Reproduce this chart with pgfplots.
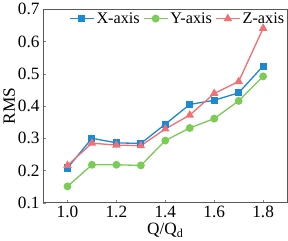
\documentclass[border=0pt]{standalone}
\usepackage{fontspec}
\setmainfont{Liberation Serif}
\usepackage{pgfplots}
\pgfplotsset{compat=1.18}
\definecolor{cx}{RGB}{28,138,210}
\definecolor{cy}{RGB}{122,204,84}
\definecolor{cz}{RGB}{240,112,116}
\begin{document}
\begin{tikzpicture}
\begin{axis}[
  scale only axis, width=240bp, height=190bp,
  xmin=0.9, xmax=1.9, ymin=0.1, ymax=0.7,
  xtick={1.0,1.2,1.4,1.6,1.8},
  ytick={0.1,0.2,0.3,0.4,0.5,0.6,0.7},
  xticklabel style={/pgf/number format/.cd,fixed,fixed zerofill,precision=1},
  yticklabel style={/pgf/number format/.cd,fixed,fixed zerofill,precision=1},
  /pgf/number format/assume math mode=true,
  tick align=inside, xtick pos=bottom, ytick pos=left,
  major tick length=3bp,
  tick label style={font=\fontsize{17}{19}\selectfont},
  label style={font=\fontsize{17}{19}\selectfont},
  xlabel={Q/Q$_\mathrm{d}$}, ylabel={RMS},
  xlabel style={yshift=2bp}, ylabel style={yshift=-4bp},
  axis line style={gray!70!black, line width=0.8pt},
  legend columns=3,
  legend style={at={(0.995,0.995)}, anchor=north east, draw=none, fill=none,
    font=\fontsize{16}{18}\selectfont, inner sep=0pt,
    /tikz/every even column/.append style={column sep=1pt}},
  legend image code/.code={\draw[mark repeat=2,mark phase=2] plot coordinates {(0cm,0cm)(0.42cm,0cm)(0.84cm,0cm)};},
  legend cell align=left,
]
\addplot[cx, line width=1.3pt, mark=square*, mark size=2.8pt] coordinates {
(1.0,0.208)(1.1,0.300)(1.2,0.286)(1.3,0.284)(1.4,0.344)(1.5,0.405)(1.6,0.418)(1.7,0.441)(1.8,0.524)};
\addlegendentry{X-axis}
\addplot[cy, line width=1.3pt, mark=*, mark size=3.2pt] coordinates {
(1.0,0.151)(1.1,0.218)(1.2,0.218)(1.3,0.216)(1.4,0.293)(1.5,0.332)(1.6,0.361)(1.7,0.416)(1.8,0.492)};
\addlegendentry{Y-axis}
\addplot[cz, line width=1.3pt, mark=triangle*, mark size=3.6pt] coordinates {
(1.0,0.216)(1.1,0.285)(1.2,0.279)(1.3,0.277)(1.4,0.329)(1.5,0.372)(1.6,0.439)(1.7,0.476)(1.8,0.641)};
\addlegendentry{Z-axis}
\end{axis}
\end{tikzpicture}
\end{document}
